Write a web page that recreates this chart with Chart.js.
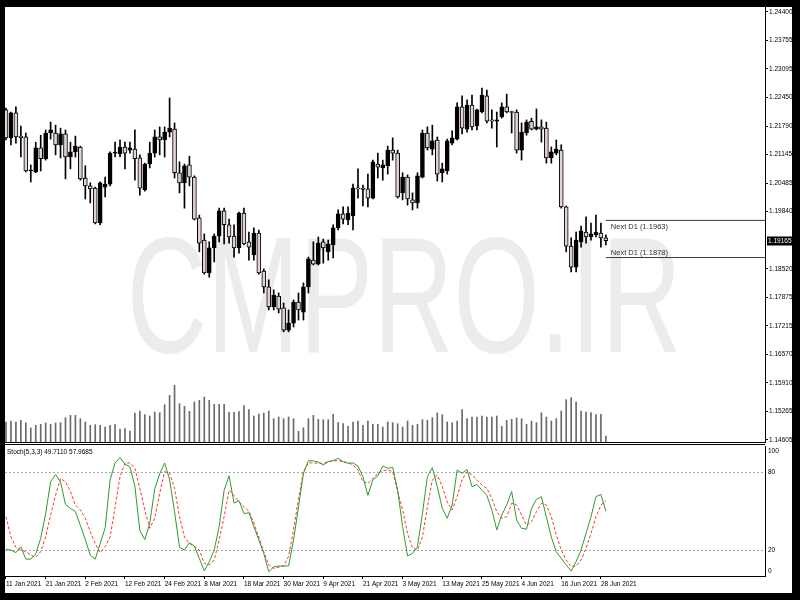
<!DOCTYPE html>
<html>
<head>
<meta charset="utf-8">
<title>EURUSD D1 - Stoch(5,3,3)</title>
<script src="https://cdn.jsdelivr.net/npm/chart.js@4.4.1/dist/chart.umd.min.js"></script>
<style>
    html, body { margin: 0; padding: 0; background: #000; width: 800px; height: 600px; overflow: hidden; }
    #frame { position: absolute; left: 5px; top: 7px; width: 787px; height: 586px; background: #fff; }
    #mainChart { position: absolute; left: 0; top: 0; }
    #stochChart { position: absolute; left: 0; top: 437px; }
</style>
</head>
<body>
<div id="frame">
    <canvas id="mainChart" width="787" height="437"></canvas>
    <canvas id="stochChart" width="787" height="149"></canvas>
</div>
<script>
// ---- data (daily bars, 11 Jan 2021 .. 29 Jun 2021) ----
const opens = [
    1.2216, 1.2152, 1.2209, 1.2156, 1.2154, 1.2076, 1.2074, 1.2129, 1.2104, 1.2163,
    1.2163, 1.2136, 1.2161, 1.2108, 1.2120, 1.2131, 1.2060, 1.2042, 1.2037, 1.1957,
    1.2039, 1.2046, 1.2117, 1.2115, 1.2131, 1.2124, 1.2126, 1.2106, 1.2033, 1.2092,
    1.2117, 1.2154, 1.2147, 1.2165, 1.2172, 1.2072, 1.2049, 1.2090, 1.2062, 1.1969,
    1.1918, 1.1843, 1.1900, 1.1927, 1.1985, 1.1953, 1.1927, 1.1900, 1.1980, 1.1914,
    1.1884, 1.1934, 1.1847, 1.1811, 1.1765, 1.1790, 1.1763, 1.1712, 1.1728, 1.1776,
    1.1753, 1.1811, 1.1872, 1.1863, 1.1914, 1.1891, 1.1907, 1.1946, 1.1978, 1.1964,
    1.1973, 1.2037, 1.2037, 1.2035, 1.2014, 1.2092, 1.2083, 1.2088, 1.2124, 1.2117,
    1.2026, 1.2062, 1.2010, 1.2003, 1.2062, 1.2163, 1.2126, 1.2147, 1.2072, 1.2076,
    1.2140, 1.2149, 1.2223, 1.2172, 1.2227, 1.2179, 1.2211, 1.2248, 1.2193, 1.2190,
    1.2200, 1.2223, 1.2211, 1.2211, 1.2124, 1.2163, 1.2190, 1.2172, 1.2177, 1.2174,
    1.2106, 1.2117, 1.2124, 1.1994, 1.1904, 1.1856, 1.1914, 1.1936, 1.1925, 1.1930,
    1.1934, 1.1923
];
const highs = [
    1.2220, 1.2211, 1.2223, 1.2179, 1.2163, 1.2090, 1.2142, 1.2158, 1.2170, 1.2188,
    1.2181, 1.2174, 1.2170, 1.2142, 1.2156, 1.2133, 1.2088, 1.2049, 1.2039, 1.2051,
    1.2062, 1.2120, 1.2142, 1.2147, 1.2142, 1.2142, 1.2170, 1.2113, 1.2094, 1.2142,
    1.2170, 1.2177, 1.2177, 1.2243, 1.2186, 1.2097, 1.2092, 1.2110, 1.2065, 1.1975,
    1.1932, 1.1914, 1.1932, 1.1991, 1.1991, 1.1966, 1.1953, 1.1982, 1.1991, 1.1936,
    1.1946, 1.1941, 1.1852, 1.1827, 1.1804, 1.1797, 1.1774, 1.1758, 1.1781, 1.1797,
    1.1820, 1.1879, 1.1914, 1.1925, 1.1920, 1.1918, 1.1953, 1.1987, 1.1994, 1.1994,
    1.2046, 1.2081, 1.2044, 1.2069, 1.2101, 1.2117, 1.2101, 1.2133, 1.2152, 1.2124,
    1.2072, 1.2067, 1.2026, 1.2072, 1.2170, 1.2177, 1.2181, 1.2154, 1.2094, 1.2149,
    1.2168, 1.2232, 1.2248, 1.2239, 1.2250, 1.2218, 1.2266, 1.2261, 1.2216, 1.2211,
    1.2232, 1.2252, 1.2213, 1.2216, 1.2186, 1.2193, 1.2197, 1.2218, 1.2193, 1.2188,
    1.2131, 1.2147, 1.2136, 1.1996, 1.1923, 1.1936, 1.1950, 1.1971, 1.1957, 1.1975,
    1.1957, 1.1930
];
const lows = [
    1.2147, 1.2136, 1.2140, 1.2108, 1.2074, 1.2051, 1.2072, 1.2076, 1.2101, 1.2149,
    1.2113, 1.2106, 1.2058, 1.2081, 1.2108, 1.2055, 1.2012, 1.2003, 1.1955, 1.1953,
    1.2017, 1.2042, 1.2108, 1.2108, 1.2081, 1.2117, 1.2055, 1.2021, 1.2030, 1.2083,
    1.2108, 1.2113, 1.2108, 1.2154, 1.2060, 1.2026, 1.1991, 1.2042, 1.1964, 1.1891,
    1.1840, 1.1833, 1.1868, 1.1914, 1.1909, 1.1911, 1.1879, 1.1888, 1.1907, 1.1872,
    1.1872, 1.1840, 1.1797, 1.1758, 1.1758, 1.1751, 1.1708, 1.1708, 1.1719, 1.1735,
    1.1735, 1.1797, 1.1861, 1.1861, 1.1865, 1.1872, 1.1877, 1.1941, 1.1955, 1.1953,
    1.1941, 1.2014, 1.1996, 1.1994, 1.2012, 1.2060, 1.2055, 1.2069, 1.2101, 1.2014,
    1.2010, 1.1998, 1.1987, 1.1991, 1.2060, 1.2124, 1.2113, 1.2053, 1.2051, 1.2069,
    1.2136, 1.2147, 1.2161, 1.2165, 1.2170, 1.2170, 1.2209, 1.2186, 1.2174, 1.2131,
    1.2197, 1.2209, 1.2163, 1.2117, 1.2101, 1.2158, 1.2170, 1.2170, 1.2142, 1.2094,
    1.2094, 1.2113, 1.1991, 1.1891, 1.1845, 1.1845, 1.1902, 1.1911, 1.1918, 1.1925,
    1.1902, 1.1907
];
const closes = [
    1.2152, 1.2209, 1.2154, 1.2152, 1.2076, 1.2078, 1.2129, 1.2104, 1.2163, 1.2170,
    1.2136, 1.2161, 1.2108, 1.2120, 1.2133, 1.2058, 1.2042, 1.2035, 1.1957, 1.2049,
    1.2046, 1.2117, 1.2118, 1.2131, 1.2117, 1.2129, 1.2104, 1.2037, 1.2092, 1.2117,
    1.2154, 1.2147, 1.2165, 1.2174, 1.2072, 1.2049, 1.2088, 1.2062, 1.1966, 1.1911,
    1.1843, 1.1900, 1.1927, 1.1985, 1.1953, 1.1925, 1.1900, 1.1980, 1.1909, 1.1902,
    1.1934, 1.1843, 1.1811, 1.1765, 1.1792, 1.1760, 1.1712, 1.1728, 1.1776, 1.1758,
    1.1811, 1.1875, 1.1863, 1.1911, 1.1900, 1.1909, 1.1946, 1.1978, 1.1966, 1.1980,
    1.2037, 1.2035, 1.2034, 1.2014, 1.2097, 1.2085, 1.2090, 1.2124, 1.2117, 1.2017,
    1.2062, 1.2012, 1.2003, 1.2065, 1.2163, 1.2129, 1.2145, 1.2069, 1.2081, 1.2145,
    1.2152, 1.2223, 1.2174, 1.2227, 1.2177, 1.2216, 1.2250, 1.2190, 1.2190, 1.2193,
    1.2223, 1.2211, 1.2210, 1.2124, 1.2165, 1.2188, 1.2172, 1.2177, 1.2172, 1.2106,
    1.2120, 1.2126, 1.1994, 1.1904, 1.1856, 1.1918, 1.1939, 1.1925, 1.1932, 1.1936,
    1.1923, 1.19165
];
// tick volume (relative units)
const volumes = [
    200, 210, 200, 217, 193, 140, 167, 177, 190, 177,
    190, 193, 243, 267, 267, 233, 200, 167, 173, 167,
    150, 167, 173, 127, 133, 110, 290, 310, 273, 260,
    300, 293, 373, 467, 567, 383, 357, 307, 400, 417,
    450, 417, 377, 377, 377, 297, 297, 303, 363, 323,
    260, 280, 290, 310, 233, 250, 233, 250, 233, 107,
    143, 233, 267, 227, 223, 223, 277, 193, 183, 157,
    200, 210, 167, 210, 177, 177, 150, 200, 193, 183,
    150, 210, 167, 177, 223, 217, 243, 290, 273, 200,
    193, 210, 323, 233, 250, 250, 260, 250, 250, 260,
    157, 217, 227, 240, 233, 177, 210, 193, 293, 250,
    210, 233, 310, 423, 443, 400, 310, 300, 293, 273,
    277, 60
];
// Stochastic(5,3,3): %K main line and %D signal line
const stochMain = [
    20.5, 20, 18, 22.5, 13, 13, 17, 29, 48, 72.5,
    78, 72.5, 55, 52, 49.5, 39, 28, 16, 13, 25,
    37, 74, 87, 91, 86, 84, 69, 35, 28, 40.5,
    67, 78.5, 87, 74, 49.5, 22, 20, 25.6, 23, 13.6,
    4, 11, 20, 38, 66, 77, 56, 58, 48, 48.7,
    38, 27.7, 17.4, 3.3, 7, 7.7, 7.7, 7.7, 27.7, 53,
    79, 88.7, 88.5, 87.7, 85.4, 88, 88.7, 90.5, 88, 86.7,
    87, 84.6, 76.4, 62, 74, 77, 84.6, 82.8, 83.6, 66,
    38, 15.4, 17.4, 22.6, 48, 76.4, 83.3, 68.7, 52, 44.4,
    54.6, 81.5, 79, 82, 68.7, 70.5, 66, 62, 50.8, 35.4,
    47, 54.6, 65, 43, 36.7, 36, 52, 59, 61, 45.6,
    30, 18.7, 13.6, 8.5, 3.8, 11, 20, 32.8, 45.6, 61,
    62.8, 49.711
];
const stochSignal = [
    45.6, 30, 22, 20, 18.7, 16, 14.4, 18.7, 30, 47,
    62, 75, 72.5, 65, 54.6, 50.8, 44.4, 34, 25, 18,
    22.6, 30, 53, 76.4, 87, 87, 82.8, 67.4, 50.8, 36.7,
    44.4, 63.6, 80.3, 79, 67.4, 45.6, 30, 25, 22.6, 20,
    9.7, 8.5, 12.3, 27.7, 45.6, 66, 62, 57, 53, 50,
    40.5, 30, 18.7, 8.5, 5.9, 6.7, 7.7, 15, 35.4, 59.7,
    80.3, 87, 87, 86.7, 86.7, 88, 88.5, 88.7, 88, 87,
    85.4, 81.5, 72.5, 71.3, 75, 79, 81, 81.5, 80.3, 65,
    50.8, 32.8, 21.3, 20, 30, 53, 74, 77.7, 68.7, 57,
    50.8, 61, 74, 80.3, 77.7, 74, 70, 67.4, 59.7, 49.5,
    44.4, 45.6, 56, 54.6, 47, 39, 41.8, 49.5, 56, 54.6,
    45.6, 31.5, 20, 12.3, 7.2, 7.7, 12.3, 21.3, 32.8, 45.6,
    54.6, 57.9685
];
const nextD1Levels = [1.1963, 1.1878];
const priceTicks = [
    1.24400, 1.23755, 1.23095, 1.22450, 1.21790, 1.21145, 1.20485, 1.19840,
    1.18520, 1.17875, 1.17215, 1.16570, 1.15910, 1.15265, 1.14605
];
const stochLevels = [0, 20, 80, 100];
const dateTickIndex = [0, 8, 16, 24, 32, 40, 48, 56, 64, 72, 80, 88, 96, 104, 112, 120];
const dateLabels = [
    '11 Jan 2021', '21 Jan 2021', '2 Feb 2021', '12 Feb 2021', '24 Feb 2021', '8 Mar 2021',
    '18 Mar 2021', '30 Mar 2021', '9 Apr 2021', '21 Apr 2021', '3 May 2021', '13 May 2021',
    '25 May 2021', '4 Jun 2021', '16 Jun 2021', '28 Jun 2021'
];

// ---- look ----
const FONT = '"Liberation Sans", Arial, sans-serif';
const BULL = '#000000';
const BEAR = '#e2d2d2';
const X_MIN = -0.2;
const X_MAX = 153.1;
const PRICE_MAX = 1.24514;
const PRICE_MIN = 1.14558;
const AXIS_W = 27;

Chart.defaults.font.family = FONT;
Chart.defaults.animation = false;

const N = closes.length;
const idx = closes.map((_, i) => i);

/**
 * Axis helper: fixed width, no extra edge padding
 */
function fixedWidth(w) {
    return (scale) => {
        scale.width = w;
        scale.paddingTop = 0;
        scale.paddingBottom = 0;
    };
}

// ---- main window: candles, volumes, watermark ----
const mainOverlay = {
    id: 'mainOverlay',
    beforeDatasetsDraw(chart) {
        const { ctx } = chart;
        const text = 'CMPRO.IR';
        ctx.save();
        ctx.font = `166px ${FONT}`;
        ctx.fillStyle = '#ececec';
        ctx.textBaseline = 'alphabetic';
        ctx.textAlign = 'left';
        const m = ctx.measureText(text);
        const ink = m.actualBoundingBoxLeft + m.actualBoundingBoxRight;
        ctx.translate(127, 345);
        ctx.scale(545 / ink, 1);
        ctx.fillText(text, m.actualBoundingBoxLeft, 0);
        ctx.restore();
    },
    afterDraw(chart) {
        const { ctx, chartArea } = chart;
        const x = chart.scales.x;
        const y = chart.scales.y;
        ctx.save();

        // bottom frame line of the main window
        ctx.strokeStyle = '#000';
        ctx.lineWidth = 1;
        ctx.beginPath();
        ctx.moveTo(chartArea.left, chartArea.bottom + 0.5);
        ctx.lineTo(chartArea.right, chartArea.bottom + 0.5);
        ctx.stroke();

        // Next D1 captions
        ctx.font = `7.5px ${FONT}`;
        ctx.fillStyle = '#333';
        ctx.textBaseline = 'middle';
        ctx.textAlign = 'left';
        const tx = x.getPixelForValue(N - 1) + 5;
        ctx.fillText(`Next D1 (${nextD1Levels[0].toFixed(4)})`, tx, y.getPixelForValue(nextD1Levels[0]) + 7);
        ctx.fillText(`Next D1 (${nextD1Levels[1].toFixed(4)})`, tx, y.getPixelForValue(nextD1Levels[1]) - 5);

        // current price box on the axis
        const last = closes[N - 1];
        const py = Math.round(y.getPixelForValue(last));
        ctx.fillStyle = '#000';
        ctx.fillRect(chartArea.right + 2, py - 4.5, AXIS_W - 2, 9);
        ctx.fillStyle = '#fff';
        ctx.font = `6.5px ${FONT}`;
        ctx.fillText(last.toFixed(5), chartArea.right + 3, py);
        ctx.restore();
    }
};

const mainChart = new Chart(document.getElementById('mainChart'), {
    type: 'bar',
    data: {
        datasets: [
            {
                label: 'Bodies',
                data: idx.map(i => ({ x: i, y: [Math.min(opens[i], closes[i]), Math.max(opens[i], closes[i])] })),
                backgroundColor: idx.map(i => (closes[i] > opens[i] ? BULL : BEAR)),
                borderColor: '#000',
                borderWidth: 1,
                borderSkipped: false,
                barThickness: 4,
                minBarLength: 1,
                grouped: false,
                yAxisID: 'y',
            },
            {
                label: 'Wicks',
                data: idx.map(i => ({ x: i, y: [lows[i], highs[i]] })),
                backgroundColor: '#000',
                barThickness: 1,
                grouped: false,
                yAxisID: 'y',
            },
            {
                label: 'Volumes',
                data: idx.map(i => ({ x: i, y: volumes[i] })),
                backgroundColor: '#6a6a6a',
                barThickness: 1,
                grouped: false,
                yAxisID: 'yVol',
            },
            ...nextD1Levels.map(level => ({
                type: 'line',
                label: 'Next D1',
                data: [{ x: N - 1, y: level }, { x: X_MAX, y: level }],
                borderColor: '#3a3a3a',
                borderWidth: 1,
                pointRadius: 0,
                yAxisID: 'y',
            })),
        ],
    },
    options: {
        responsive: false,
        devicePixelRatio: 1,
        layout: { padding: { top: 0, left: 0, right: 0, bottom: 2 } },
        plugins: { legend: { display: false }, tooltip: { enabled: false } },
        scales: {
            x: { type: 'linear', display: false, offset: false, min: X_MIN, max: X_MAX },
            y: {
                type: 'linear',
                position: 'right',
                min: PRICE_MIN,
                max: PRICE_MAX,
                afterBuildTicks: (axis) => { axis.ticks = priceTicks.map(v => ({ value: v })); },
                afterFit: fixedWidth(AXIS_W),
                ticks: {
                    autoSkip: false,
                    padding: 1,
                    color: '#000',
                    font: { size: 6.5 },
                    callback: (v) => Number(v).toFixed(5),
                },
                grid: { drawOnChartArea: false, drawTicks: true, tickLength: 3, color: '#000' },
                border: { display: true, color: '#000' },
            },
            yVol: { type: 'linear', display: false, min: 0, max: 4350 },
        },
    },
    plugins: [mainOverlay],
});

// ---- stochastic window ----
const stochOverlay = {
    id: 'stochOverlay',
    beforeDatasetsDraw(chart) {
        const { ctx, chartArea } = chart;
        const y = chart.scales.y;
        ctx.save();
        ctx.strokeStyle = '#a8a8a8';
        ctx.lineWidth = 1;
        ctx.setLineDash([2, 2]);
        [20, 80].forEach(level => {
            const py = Math.round(y.getPixelForValue(level)) + 0.5;
            ctx.beginPath();
            ctx.moveTo(chartArea.left, py);
            ctx.lineTo(chartArea.right, py);
            ctx.stroke();
        });
        ctx.restore();
    },
    afterDraw(chart) {
        const { ctx, chartArea } = chart;
        ctx.save();
        ctx.strokeStyle = '#000';
        ctx.lineWidth = 1;
        ctx.beginPath();
        ctx.moveTo(chartArea.left, 0.5);
        ctx.lineTo(chartArea.right, 0.5);
        ctx.stroke();

        ctx.font = `6.5px ${FONT}`;
        ctx.fillStyle = '#000';
        ctx.textBaseline = 'middle';
        ctx.textAlign = 'left';
        const title = `Stoch(5,3,3) ${stochMain[N - 1].toFixed(4)} ${stochSignal[N - 1].toFixed(4)}`;
        ctx.fillText(title, 2, 8);
        ctx.restore();
    }
};

const stochChart = new Chart(document.getElementById('stochChart'), {
    type: 'line',
    data: {
        datasets: [
            {
                label: 'Main',
                data: idx.map(i => ({ x: i, y: stochMain[i] })),
                borderColor: '#2f9a2f',
                borderWidth: 1,
                pointRadius: 0,
                tension: 0,
            },
            {
                label: 'Signal',
                data: idx.map(i => ({ x: i, y: stochSignal[i] })),
                borderColor: '#ff3434',
                borderWidth: 1,
                borderDash: [3, 2],
                pointRadius: 0,
                tension: 0,
            },
        ],
    },
    options: {
        responsive: false,
        devicePixelRatio: 1,
        layout: { padding: { top: 2, left: 0, right: 0, bottom: 0 } },
        plugins: { legend: { display: false }, tooltip: { enabled: false } },
        scales: {
            x: {
                type: 'linear',
                position: 'bottom',
                offset: false,
                min: X_MIN,
                max: X_MAX,
                afterBuildTicks: (axis) => { axis.ticks = dateTickIndex.map(v => ({ value: v })); },
                afterFit: (scale) => { scale.height = 17; scale.paddingLeft = 0; scale.paddingRight = 0; },
                ticks: {
                    autoSkip: false,
                    maxRotation: 0,
                    align: 'start',
                    padding: 1,
                    color: '#000',
                    font: { size: 6.5 },
                    callback: (v, i) => dateLabels[i],
                },
                grid: { drawOnChartArea: false, drawTicks: true, tickLength: 3, color: '#000' },
                border: { display: true, color: '#000' },
            },
            y: {
                type: 'linear',
                position: 'right',
                min: 0,
                max: 100,
                // edge labels are pulled inside the window the way the terminal does it
                afterBuildTicks: (axis) => {
                    axis.ticks = stochLevels.map(v => ({ value: v === 0 ? 3.8 : v === 100 ? 96.2 : v }));
                },
                afterFit: fixedWidth(AXIS_W),
                ticks: {
                    autoSkip: false,
                    padding: 3,
                    color: '#000',
                    font: { size: 6.5 },
                    callback: (v, i) => String(stochLevels[i]),
                },
                grid: { drawOnChartArea: false, drawTicks: false },
                border: { display: true, color: '#000' },
            },
        },
    },
    plugins: [stochOverlay],
});
</script>
</body>
</html>
